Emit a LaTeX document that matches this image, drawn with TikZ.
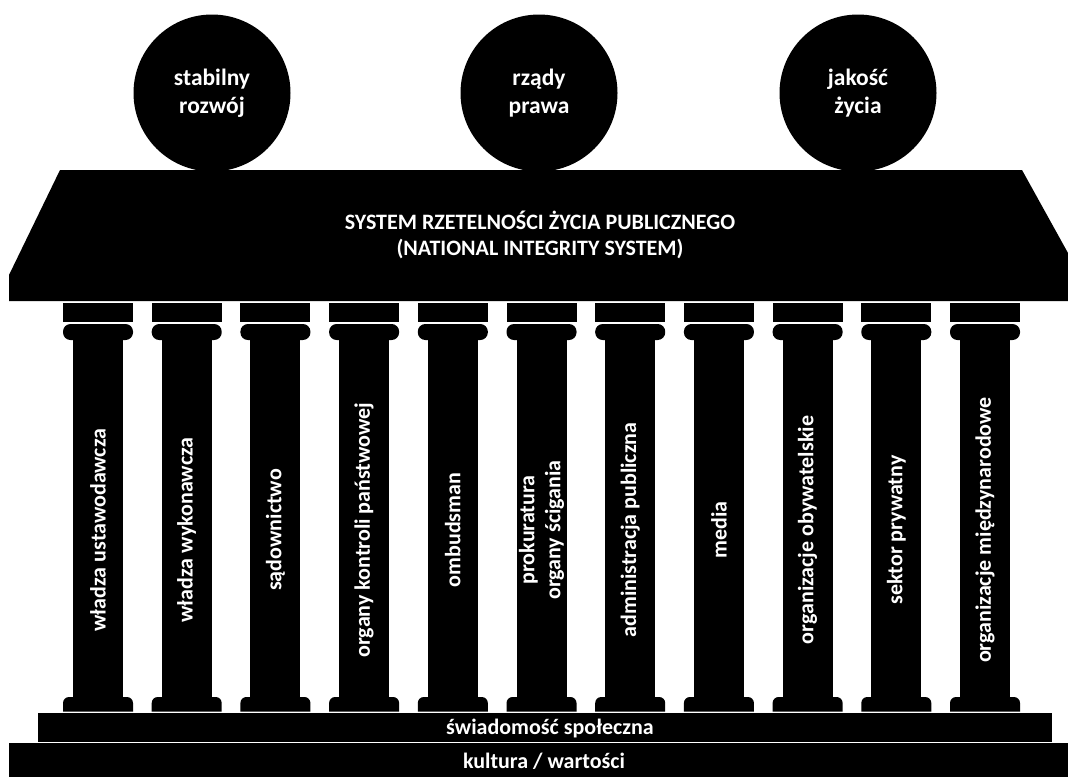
\documentclass[tikz,border=0pt]{standalone}
\usepackage{fontspec}
\setmainfont{Carlito}
\begin{document}
\begin{tikzpicture}[x=1pt,y=-1pt,
  lbl/.style={text=white,font=\bfseries\fontsize{22}{26}\selectfont,align=center,inner sep=0pt},
  clbl/.style={text=white,font=\bfseries\fontsize{23.5}{28}\selectfont,align=center,inner sep=0pt},
  ball/.style={circle,fill=black,minimum size=157pt,inner sep=0pt},
  blk/.style={fill=black}]
\useasboundingbox (0,0) rectangle (1068,777);
% circles
\node[ball] (b1) at (212,93) {};
\node[ball] (b2) at (539,93) {};
\node[ball] (b3) at (858,93) {};
\node[clbl] (c1) at (b1) {stabilny\\rozwój};
\node[clbl] (c2) at (b2) {rządy\\prawa};
\node[clbl] (c3) at (b3) {jakość\\życia};
% roof
\fill[blk] (60,170) -- (1022,170) -- (1068,253) -- (1068,301) -- (9,301) -- (9,275) -- cycle;
\node[lbl] (roof) at (540,235) {SYSTEM RZETELNOŚCI ŻYCIA PUBLICZNEGO\\(NATIONAL INTEGRITY SYSTEM)};
% columns
\foreach \i in {0,...,10}{
  \pgfmathsetmacro\cx{98+88.7*\i}
  \fill[blk] (\cx-35,303) rectangle (\cx+35,322);
  \fill[blk,rounded corners=7.5pt] (\cx-35,324) rectangle (\cx+35,340);
  \fill[blk] (\cx-25,336) rectangle (\cx+25,700);
  \fill[blk] (\cx-35,711.5) -- (\cx-35,703) [rounded corners=6pt] -- (\cx-35,697) -- (\cx+35,697) [sharp corners] -- (\cx+35,711.5) -- cycle;
}
\node[lbl,rotate=90] (p1) at (98,530) {władza ustawodawcza};
\node[lbl,rotate=90] (p2) at (186.7,530) {władza wykonawcza};
\node[lbl,rotate=90] (p3) at (275.4,530) {sądownictwo};
\node[lbl,rotate=90] (p4) at (364.1,530) {organy kontroli państwowej};
\node[lbl,rotate=90] (p5) at (452.8,530) {ombudsman};
\node[lbl,rotate=90] (p6) at (541.5,530) {prokuratura\\organy ścigania};
\node[lbl,rotate=90] (p7) at (630.2,530) {administracja publiczna};
\node[lbl,rotate=90] (p8) at (718.9,530) {media};
\node[lbl,rotate=90] (p9) at (807.6,530) {organizacje obywatelskie};
\node[lbl,rotate=90] (p10) at (896.3,530) {sektor prywatny};
\node[lbl,rotate=90] (p11) at (985,530) {organizacje międzynarodowe};
% steps
\fill[blk] (38,713) rectangle (1052,741.5);
\fill[blk] (9,743) rectangle (1068,777);
\node[lbl] (s1) at (550,728) {świadomość społeczna};
\node[lbl] (s2) at (544,761) {kultura / wartości};
\end{tikzpicture}
\end{document}
